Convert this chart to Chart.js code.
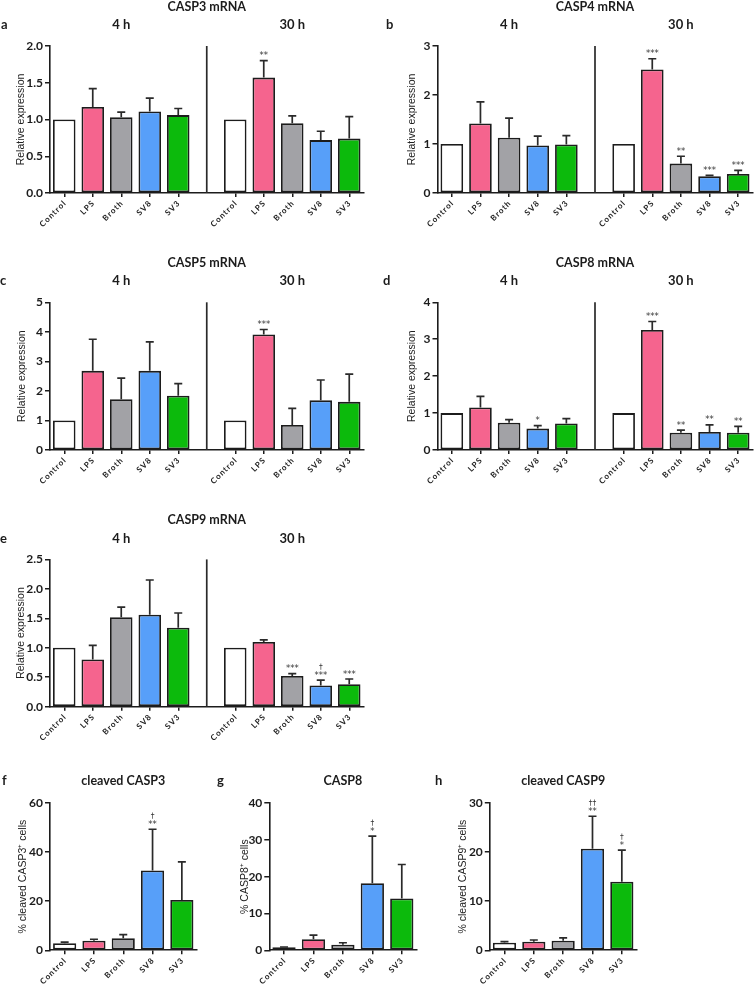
<!DOCTYPE html>
<html>
<head>
<meta charset="utf-8">
<script src="https://cdn.jsdelivr.net/npm/chart.js@4.4.1/dist/chart.umd.min.js"></script>
<style>
  body { margin: 0; background: #fff; width: 755px; height: 985px; position: relative; overflow: hidden; }
  canvas { position: absolute; }
</style>
</head>
<body>
<canvas id="pa"></canvas>
<canvas id="pb"></canvas>
<canvas id="pc"></canvas>
<canvas id="pd"></canvas>
<canvas id="pe"></canvas>
<canvas id="pf"></canvas>
<canvas id="pg"></canvas>
<canvas id="ph"></canvas>
<script>
const groups = ['Control', 'LPS', 'Broth', 'SV8', 'SV3'];
const mrnaLabels = [...groups, '', ...groups];
const times = ['4 h', '30 h'];

// mRNA, relative expression (4 h | gap | 30 h), mean and SD
const casp3Mean = [1.00, 1.17, 1.03, 1.11, 1.06, null, 1.00, 1.57, 0.95, 0.72, 0.74];
const casp3Sd   = [0, 0.25, 0.07, 0.18, 0.09, null, 0, 0.23, 0.10, 0.12, 0.30];
const casp3Sig  = ['', '', '', '', '', '', '', '**', '', '', ''];

const casp4Mean = [1.00, 1.42, 1.13, 0.97, 0.99, null, 1.00, 2.52, 0.60, 0.34, 0.39];
const casp4Sd   = [0, 0.44, 0.40, 0.19, 0.18, null, 0, 0.22, 0.15, 0.02, 0.07];
const casp4Sig  = ['', '', '', '', '', '', '', '***', '**', '***', '***'];

const casp5Mean = [1.00, 2.68, 1.72, 2.68, 1.84, null, 1.00, 3.91, 0.85, 1.68, 1.63];
const casp5Sd   = [0, 1.07, 0.71, 0.98, 0.41, null, 0, 0.17, 0.56, 0.69, 0.94];
const casp5Sig  = ['', '', '', '', '', '', '', '***', '', '', ''];

const casp8Mean = [1.00, 1.15, 0.74, 0.58, 0.72, null, 1.00, 3.25, 0.47, 0.49, 0.47];
const casp8Sd   = [0, 0.30, 0.08, 0.08, 0.13, null, 0, 0.23, 0.07, 0.19, 0.17];
const casp8Sig  = ['', '', '', '*', '', '', '', '***', '**', '**', '**'];

const casp9Mean = [1.00, 0.80, 1.52, 1.56, 1.34, null, 1.00, 1.10, 0.52, 0.36, 0.38];
const casp9Sd   = [0, 0.24, 0.17, 0.59, 0.25, null, 0, 0.035, 0.04, 0.09, 0.09];
const casp9Sig  = ['', '', '', '', '', '', '', '', '***', '***', '***'];
const casp9Dag  = ['', '', '', '', '', '', '', '', '', '†', ''];

// protein, % positive cells
const cc3Mean = [2.9, 3.9, 4.9, 32.5, 20.5];
const cc3Sd   = [0.4, 0.6, 1.5, 16.8, 15.5];
const cc3Sig  = ['', '', '', '**', ''];
const cc3Dag  = ['', '', '', '†', ''];

const c8Mean = [0.8, 3.0, 1.5, 18.2, 14.1];
const c8Sd   = [0.1, 1.1, 0.55, 12.8, 9.2];
const c8Sig  = ['', '', '', '*', ''];
const c8Dag  = ['', '', '', '†', ''];

const cc9Mean = [1.55, 1.75, 1.95, 20.7, 13.95];
const cc9Sd   = [0.2, 0.35, 0.6, 6.6, 6.45];
const cc9Sig  = ['', '', '', '**', '*'];
const cc9Dag  = ['', '', '', '††', '†'];

const palette = ['#ffffff', '#f5648e', '#a2a2a6', '#579ff9', '#0cba0c'];
const FONT = 'Lato, "Open Sans", sans-serif';
const INK = '#1c1c1c';

function panel(id, box, area, d) {
  const [cl, ct, cw, ch] = box;
  const [L, T, R, B] = area;
  const cv = document.getElementById(id);
  cv.width = cw; cv.height = ch;
  cv.style.left = cl + 'px'; cv.style.top = ct + 'px';
  const split = d.labels.length > 5;

  const deco = {
    id: 'deco',
    afterDatasetsDraw(chart) {
      const { ctx, chartArea: a, scales: { x, y } } = chart;
      const meta = chart.getDatasetMeta(0);
      ctx.save();
      ctx.strokeStyle = '#2a2a2a';
      ctx.lineWidth = 1.7;
      ctx.fillStyle = '#333';
      ctx.textAlign = 'center';
      ctx.textBaseline = 'alphabetic';
      meta.data.forEach((bar, i) => {
        const m = d.mean[i], s = d.sd[i];
        if (m == null) return;
        const top = y.getPixelForValue(m + (s || 0));
        if (s) {
          ctx.beginPath();
          ctx.moveTo(bar.x, bar.y);
          ctx.lineTo(bar.x, top);
          ctx.moveTo(bar.x - 4, top);
          ctx.lineTo(bar.x + 4, top);
          ctx.stroke();
        }
        if (d.sig && d.sig[i]) {
          ctx.font = '8.5px "DejaVu Sans", sans-serif';
          ctx.fillText(d.sig[i], bar.x, top - 2.5);
        }
        if (d.dag && d.dag[i]) {
          ctx.font = '7.5px "DejaVu Sans", sans-serif';
          ctx.fillText(d.dag[i], bar.x, top - 11.5);
        }
      });
      if (split) {
        const xd = x.getPixelForValue(5);
        ctx.beginPath();
        ctx.moveTo(xd, a.top);
        ctx.lineTo(xd, a.bottom);
        ctx.stroke();
      }
      ctx.fillStyle = INK;
      ctx.textBaseline = 'middle';
      ctx.font = 'bold 12.5px ' + FONT;
      const tx = split ? x.getPixelForValue(5) : (a.left + a.right) / 2;
      ctx.fillText(d.title, tx, a.top - (split ? 39 : 22));
      if (split) {
        ctx.font = 'bold 13px ' + FONT;
        ctx.fillText(times[0], x.getPixelForValue(2), a.top - 21);
        ctx.fillText(times[1], x.getPixelForValue(8), a.top - 21);
      }
      ctx.textAlign = 'left';
      ctx.font = 'bold 13px ' + FONT;
      ctx.fillText(d.letter, d.letterX - cl, a.top - (split ? 21 : 22));
      ctx.restore();
    }
  };

  new Chart(cv, {
    type: 'bar',
    data: {
      labels: d.labels,
      datasets: [{
        data: d.mean,
        backgroundColor: d.labels.map(l => l === '' ? 'transparent' : palette[groups.indexOf(l)]),
        borderColor: INK,
        borderWidth: 1.8,
        borderSkipped: false,
        barPercentage: 0.79,
        categoryPercentage: 1
      }]
    },
    options: {
      responsive: false,
      animation: false,
      layout: { padding: { left: 0, top: T - ct, right: cl + cw - R, bottom: 0 } },
      plugins: { legend: { display: false }, tooltip: { enabled: false } },
      scales: {
        x: {
          offset: true,
          afterFit: s => { s.height = ct + ch - B; },
          border: { color: INK, width: 1.6 },
          grid: {
            offset: false, drawOnChartArea: false, tickLength: 4, lineWidth: 1.5,
            tickColor: c => (d.labels[c.index] === '' ? 'rgba(0,0,0,0)' : INK)
          },
          ticks: {
            autoSkip: false, minRotation: 45, maxRotation: 45, padding: 2,
            color: '#222', font: { family: FONT, size: 8, weight: 'bold' },
            callback: (v, i) => d.labels[i].split('').join('\u2009')
          }
        },
        y: {
          min: 0, max: d.max,
          afterFit: s => { s.width = L - cl; },
          border: { color: INK, width: 1.6 },
          grid: { drawOnChartArea: false, tickLength: 5, lineWidth: 1.5, tickColor: INK },
          ticks: {
            stepSize: d.step, padding: 2, color: INK,
            font: { family: FONT, size: 12, weight: 'bold' },
            callback: v => d.dec ? v.toFixed(1) : String(v)
          },
          title: {
            display: true, text: d.ytitle, color: '#222',
            font: { family: '"Liberation Sans", Arial, sans-serif', size: 10.5 },
            padding: { top: d.ytPad, bottom: 0 }
          }
        }
      }
    },
    plugins: [deco]
  });
}

const relExp = 'Relative expression';

panel('pa', [0, 0, 375, 245], [50, 46, 363.5, 193],
  { labels: mrnaLabels, mean: casp3Mean, sd: casp3Sd, sig: casp3Sig, max: 2.0, step: 0.5, dec: true,
    title: 'CASP3 mRNA', letter: 'a', letterX: 1, ytitle: relExp, ytPad: 15 });
panel('pb', [378, 0, 377, 245], [437.5, 46, 752.5, 193],
  { labels: mrnaLabels, mean: casp4Mean, sd: casp4Sd, sig: casp4Sig, max: 3, step: 1,
    title: 'CASP4 mRNA', letter: 'b', letterX: 386, ytitle: relExp, ytPad: 27.4 });
panel('pc', [0, 250, 375, 250], [50, 302.3, 363.5, 450],
  { labels: mrnaLabels, mean: casp5Mean, sd: casp5Sd, sig: casp5Sig, max: 5, step: 1,
    title: 'CASP5 mRNA', letter: 'c', letterX: 0, ytitle: relExp, ytPad: 15.4 });
panel('pd', [378, 250, 377, 250], [437.5, 302.3, 752.5, 450],
  { labels: mrnaLabels, mean: casp8Mean, sd: casp8Sd, sig: casp8Sig, max: 4, step: 1,
    title: 'CASP8 mRNA', letter: 'd', letterX: 383, ytitle: relExp, ytPad: 27.4 });
panel('pe', [0, 505, 375, 255], [50, 559.4, 363.5, 706.7],
  { labels: mrnaLabels, mean: casp9Mean, sd: casp9Sd, sig: casp9Sig, dag: casp9Dag, max: 2.5, step: 0.5, dec: true,
    title: 'CASP9 mRNA', letter: 'e', letterX: 0, ytitle: relExp, ytPad: 15 });
panel('pf', [0, 765, 215, 220], [50, 803, 196.5, 950.3],
  { labels: groups, mean: cc3Mean, sd: cc3Sd, sig: cc3Sig, dag: cc3Dag, max: 60, step: 20,
    title: 'cleaved CASP3', letter: 'f', letterX: 2, ytitle: '% cleaved CASP3\u207A cells', ytPad: 17 });
panel('pg', [215, 765, 220, 220], [269.3, 803, 416.5, 950.3],
  { labels: groups, mean: c8Mean, sd: c8Sd, sig: c8Sig, dag: c8Dag, max: 40, step: 10,
    title: 'CASP8', letter: 'g', letterX: 217, ytitle: '% CASP8\u207A cells', ytPad: 23.7 });
panel('ph', [435, 765, 220, 220], [489.8, 803, 636.5, 950.3],
  { labels: groups, mean: cc9Mean, sd: cc9Sd, sig: cc9Sig, dag: cc9Dag, max: 30, step: 10,
    title: 'cleaved CASP9', letter: 'h', letterX: 435, ytitle: '% cleaved CASP9\u207A cells', ytPad: 22 });
</script>
</body>
</html>
